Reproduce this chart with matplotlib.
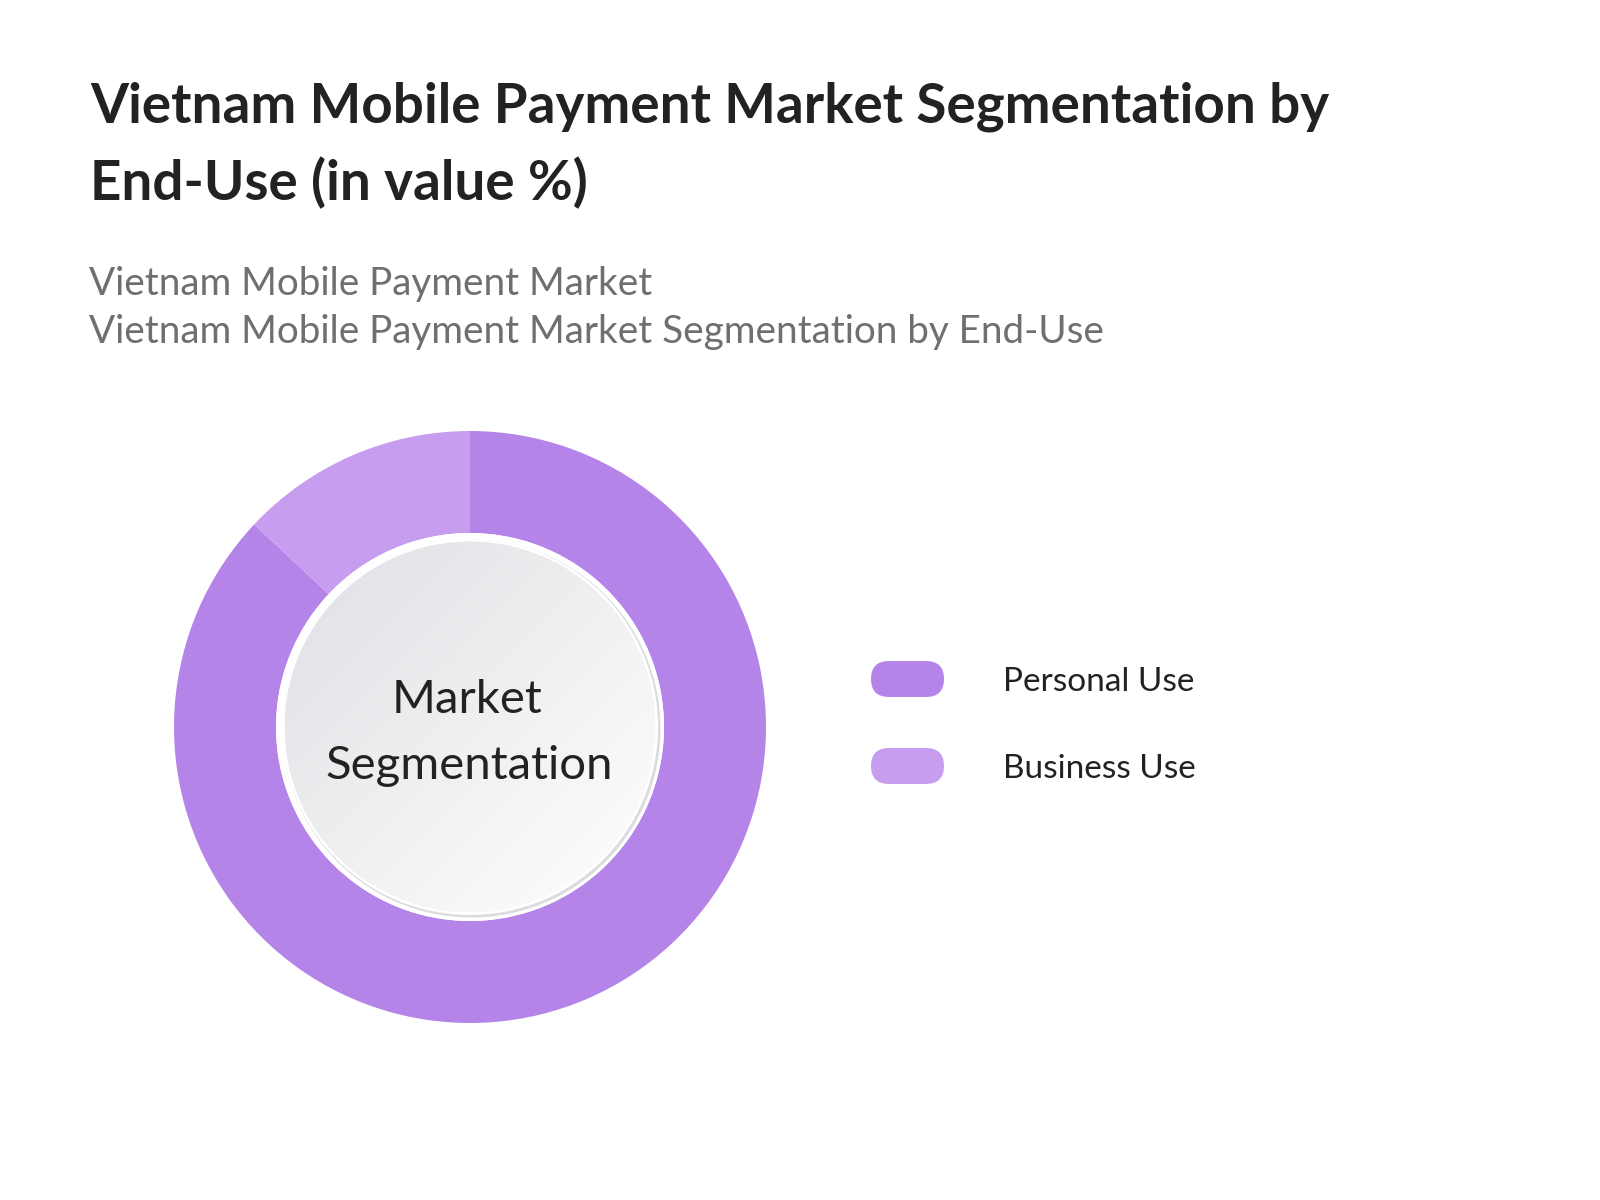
import numpy as np
import matplotlib
matplotlib.use("Agg")
import matplotlib.pyplot as plt
from matplotlib.patches import Circle, FancyBboxPatch
from matplotlib.colors import LinearSegmentedColormap

plt.rcParams["font.family"] = ["Lato", "DejaVu Sans"]

title_lines = ["Vietnam Mobile Payment Market Segmentation by", "End-Use (in value %)"]
subtitle_lines = ["Vietnam Mobile Payment Market",
                  "Vietnam Mobile Payment Market Segmentation by End-Use"]
segments = ["Personal Use", "Business Use"]
shares = [87, 13]
colors = ["#b584e9", "#c69def"]

W, H = 1600, 1200
fig = plt.figure(figsize=(16, 12), dpi=100)
ax = fig.add_axes([0, 0, 1, 1])

cx, cy = 470, H - 727
r_out, r_in = 296, 194
ax.pie(shares, colors=colors, startangle=90, counterclock=False, center=(cx, cy),
       radius=r_out, wedgeprops=dict(width=r_out - r_in, linewidth=0))

# inner disk: white gap, soft shadow, white rim, grey-to-white gradient
ax.add_patch(Circle((cx, cy), r_in, color="white", lw=0, zorder=2.5))
ax.add_patch(Circle((cx + 1.5, cy - 1.5), 189, color="#dcdce0", lw=0, zorder=3))
ax.add_patch(Circle((cx, cy), 188, color="white", lw=0, zorder=4))
rd = 185.5
g = np.linspace(0, 1, 300)
gx, gy = np.meshgrid(g, g)
grad = (gx + gy) / 2  # 0 top-left -> 1 bottom-right
im = ax.imshow(grad, extent=(cx - rd, cx + rd, cy - rd, cy + rd), origin="upper",
               cmap=LinearSegmentedColormap.from_list("disk", ["#e0e0e5", "#ffffff"]),
               zorder=5)
im.set_clip_path(Circle((cx, cy), rd, transform=ax.transData))

ax.text(cx - 3, H - 713, "Market", ha="center", va="baseline", fontsize=34, color="#222222", zorder=6)
ax.text(cx - 1, H - 779, "Segmentation", ha="center", va="baseline", fontsize=34, color="#222222", zorder=6)

# legend
for i, (lab, col) in enumerate(zip(segments, colors)):
    yc = H - (679 + i * 87)
    ax.add_patch(FancyBboxPatch((871, yc - 18), 73, 36,
                                boxstyle="round,pad=0,rounding_size=18",
                                fc=col, ec="none", zorder=3))
    ax.text(1003, yc - 3, lab, ha="left", va="center", fontsize=24, color="#222222")

for i, line in enumerate(title_lines):
    ax.text(90, H - (123 + i * 77), line, ha="left", va="baseline", fontsize=39.4,
            fontweight="bold", color="#222222")
for i, line in enumerate(subtitle_lines):
    ax.text(89, H - (295 + i * 48), line, ha="left", va="baseline", fontsize=27.8,
            color="#6f6f6f")

ax.set_xlim(0, W)
ax.set_ylim(0, H)
ax.set_aspect("equal")
ax.axis("off")

fig.savefig("out.png", dpi=100, facecolor="white")
